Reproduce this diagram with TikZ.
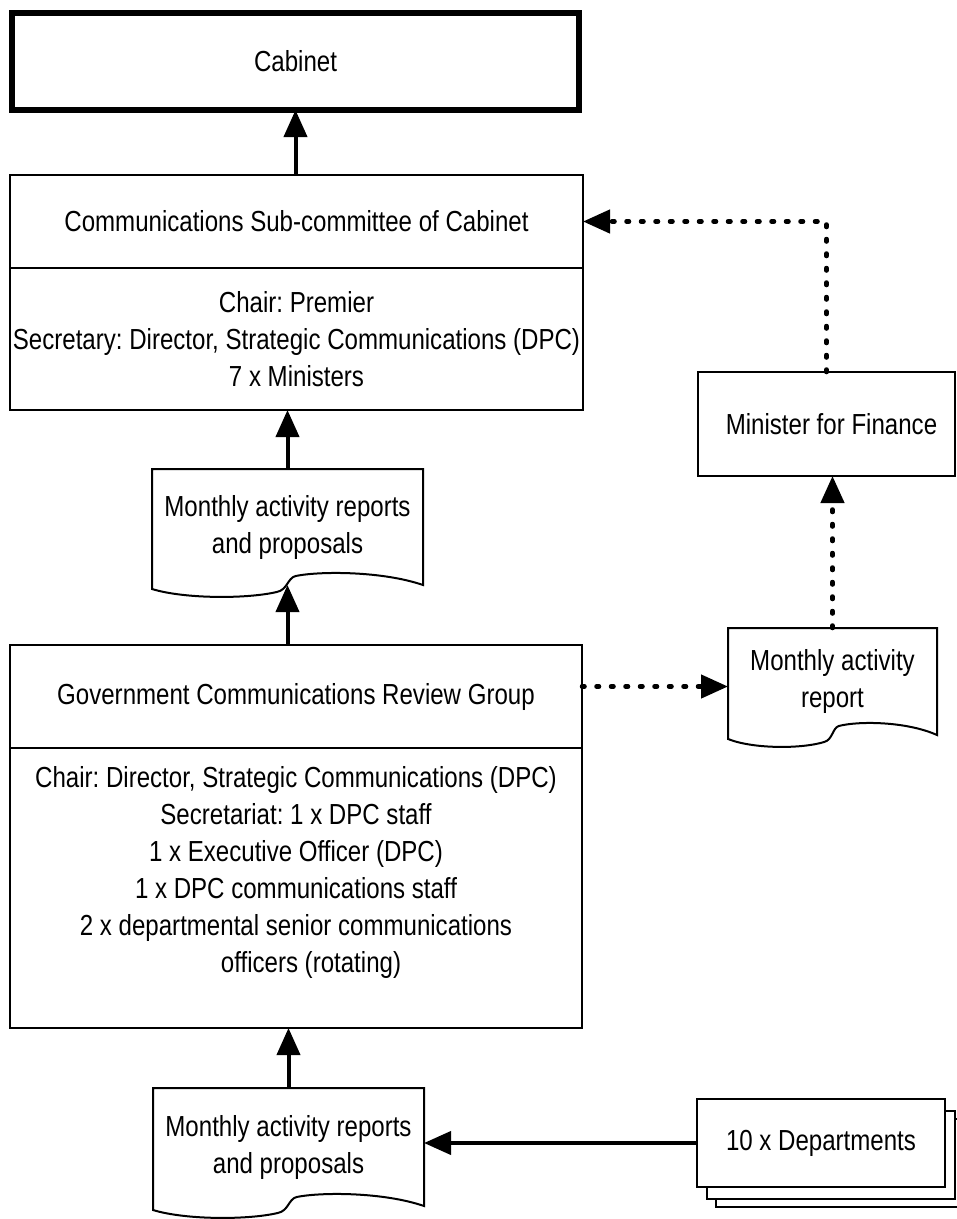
\documentclass[tikz,border=0pt]{standalone}
\usepackage{fontspec}
\setmainfont[FakeStretch=0.83]{Liberation Sans}
\usetikzlibrary{arrows.meta,calc}
\frenchspacing
\newcommand\docwave[3]{%
  \begin{scope}[shift={(#1.north west)}]
    \draw[boxline] (0,0) -- (#2,0) -- (#2,#3)
      .. controls ({0.85*#2},{#3-14}) and ({0.62*#2},{#3-14}) .. ({0.53*#2},{#3-9})
      .. controls ({0.5*#2},{#3-7}) and ({0.5*#2},{#3+5}) .. ({0.46*#2},{#3+7})
      .. controls ({0.35*#2},{#3+14}) and ({0.12*#2},{#3+14}) .. (0,{#3+4}) -- cycle;
  \end{scope}}
\begin{document}
\begin{tikzpicture}[x=1pt,y=-1pt,
  txt/.style={font=\fontsize{29}{37}\selectfont, align=center, inner sep=0pt, outer sep=0pt},
  box/.style={txt, draw, line width=2pt, rectangle},
  doc/.style={txt, rectangle},
  boxline/.style={line width=2pt},
  solidarrow/.style={line width=4pt, -{Triangle[width=23pt,length=27pt]}},
  dotarrow/.style={line width=4.5pt, line cap=round, dash pattern=on 2.5pt off 12pt, -{Triangle[width=23pt,length=27pt]}}]
\useasboundingbox (0,0) rectangle (957,1219);
\clip (0,0) rectangle (957,1219);

\node[box, line width=6pt, minimum width=567pt, minimum height=97pt] (cab) at (295.5,61.5) {Cabinet};

\node[box, minimum width=573pt, minimum height=93pt] (comms) at (296.5,221.5) {Communications Sub-committee of Cabinet};
\node[box, minimum width=573pt, minimum height=142pt] (commsb) at (296.5,339) {Chair: Premier\\Secretary: Director, Strategic Communications (DPC)\\7 x Ministers};

\node[doc, minimum width=271pt, minimum height=116pt] (doc1) at (287.5,527) {Monthly activity reports\\and proposals};
\docwave{doc1}{271}{116}

\node[box, minimum width=572pt, minimum height=103pt] (gcrg) at (296,696.5) {Government Communications Review Group};
\node[box, minimum width=572pt, minimum height=280pt] (gcrgb) at (296,888) {};
\node[txt] (gcrgt) at (296,872) {Chair: Director, Strategic Communications (DPC)\\Secretariat: 1 x DPC staff\\1 x Executive Officer (DPC)\\1 x DPC communications staff\\2 x departmental senior communications\\\hspace*{30pt}officers (rotating)};

\node[box, minimum width=257pt, minimum height=104pt] (minister) at (826.5,424) {\hspace*{10pt}Minister for Finance};

\node[doc, minimum width=209pt, minimum height=107pt] (doc2) at (832.5,681.5) {Monthly activity\\report};
\docwave{doc2}{209}{107}

\node[doc, minimum width=271pt, minimum height=118pt] (doc3) at (288.5,1147) {Monthly activity reports\\and proposals};
\docwave{doc3}{271}{118}

\node[box, fill=white, minimum width=248pt, minimum height=88pt] (depts3) at (840,1163) {};
\node[box, fill=white, minimum width=248pt, minimum height=88pt] (depts2) at (831,1154.5) {};
\node[box, fill=white, minimum width=248pt, minimum height=88pt] (depts) at (821,1143) {10 x Departments};

\draw[solidarrow] (comms.north -| cab.south) -- (cab.south);
\draw[solidarrow] (doc1.north) -- (doc1.north |- commsb.south);
\draw[solidarrow] (doc1.south |- gcrg.north) -- (doc1.south);
\draw[solidarrow] (doc3.north) -- (doc3.north |- gcrgb.south);
\draw[solidarrow] (depts.west) -- (depts.west -| doc3.east);
\draw[dotarrow] ([yshift=10pt]gcrg.east) -- ([yshift=10pt]gcrg.east -| doc2.west);
\draw[dotarrow] (doc2.north) -- (doc2.north |- minister.south);
\draw[dotarrow] (minister.north) |- (comms.east);
\end{tikzpicture}
\end{document}
